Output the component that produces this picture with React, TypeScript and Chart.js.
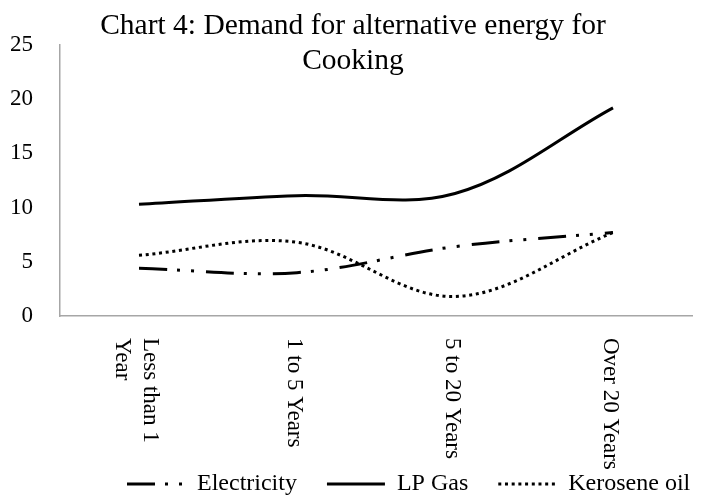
import React, { useEffect, useRef } from "react";
import { Chart, registerables } from "chart.js";

Chart.register(...registerables);

const TITLE_LINES = ["Chart 4: Demand for alternative energy for", "Cooking"];
const CATEGORIES: (string | string[])[] = [["Less than 1", "Year"], "1 to 5 Years", "5 to 20 Years", "Over 20 Years"];
const ELECTRICITY = [4.4, 4.0, 6.4, 7.7];
const LP_GAS = [10.3, 11.1, 11.3, 19.2];
const KEROSENE = [5.6, 6.8, 1.8, 7.7];
const Y_MIN = 0;
const Y_MAX = 25;
const Y_STEP = 5;

const FONT = '"Liberation Serif", "Times New Roman", serif';
const W = 702;
const H = 497;
const LEGEND_PAD = 30;
const LEGEND_H = 25 + LEGEND_PAD;
const PLOT_BOTTOM = 316;

const titlePlugin = {
  id: "excelTitle",
  afterDraw(chart: any) {
    const ctx = chart.ctx;
    ctx.save();
    ctx.fillStyle = "#000";
    ctx.font = `29.5px ${FONT}`;
    ctx.textAlign = "center";
    ctx.textBaseline = "alphabetic";
    TITLE_LINES.forEach((t, i) => ctx.fillText(t, chart.width / 2 + 2, 34 + i * 35));
    ctx.restore();
  },
};

const catLabelPlugin = {
  id: "rotatedCats",
  afterDraw(chart: any) {
    const ctx = chart.ctx;
    const xs = chart.scales.x;
    ctx.save();
    ctx.fillStyle = "#000";
    ctx.font = `23px ${FONT}`;
    ctx.textAlign = "left";
    ctx.textBaseline = "alphabetic";
    CATEGORIES.forEach((lbl, idx) => {
      const lines = Array.isArray(lbl) ? lbl : [lbl];
      const n = lines.length;
      const x = xs.getPixelForValue(idx);
      ctx.save();
      ctx.translate(x, xs.top + 22);
      ctx.rotate(Math.PI / 2);
      lines.forEach((ln, i) => {
        const yp = 9.5 - ((n - 1) / 2 - i) * 28;
        ctx.fillText(ln, 0, yp);
      });
      ctx.restore();
    });
    ctx.restore();
  },
};

const legendShiftPlugin = {
  id: "legendShift",
  afterLayout(chart: any) {
    const lg = chart.legend;
    if (lg) {
      const w = lg.right - lg.left;
      lg.left = 127 - LEGEND_PAD;
      lg.right = lg.left + w;
    }
  },
};

export default function App() {
  const ref = useRef<HTMLCanvasElement>(null);
  useEffect(() => {
    if (!ref.current) return;
    const chart = new Chart(ref.current, {
      type: "line",
      data: {
        labels: CATEGORIES.map((c) => (Array.isArray(c) ? c.join(" ") : c)),
        datasets: [
          {
            label: "Electricity",
            data: ELECTRICITY,
            borderColor: "#000",
            backgroundColor: "#000",
            borderWidth: 3,
            borderDash: [28, 10, 3, 11, 3, 12],
            pointRadius: 0,
            tension: 0.35,
            fill: false,
          },
          {
            label: "LP Gas",
            data: LP_GAS,
            borderColor: "#000",
            backgroundColor: "#000",
            borderWidth: 3,
            pointRadius: 0,
            tension: 0.35,
            fill: false,
          },
          {
            label: "Kerosene oil",
            data: KEROSENE,
            borderColor: "#000",
            backgroundColor: "#000",
            borderWidth: 3,
            borderDash: [3, 3.7],
            pointRadius: 0,
            tension: 0.35,
            fill: false,
          },
        ],
      },
      options: {
        animation: false,
        responsive: false,
        maintainAspectRatio: false,
        layout: { padding: { top: 45, left: 0, right: 10, bottom: 0 } },
        scales: {
          x: {
            type: "category",
            offset: true,
            grid: { display: false, drawTicks: false },
            border: { display: true, color: "#a6a6a6", width: 1.5 },
            ticks: { display: false },
            afterFit: (s: any) => {
              s.height = H - LEGEND_H - PLOT_BOTTOM;
            },
          },
          y: {
            min: Y_MIN,
            max: Y_MAX,
            grid: { display: false, drawTicks: false },
            border: { display: true, color: "#a6a6a6", width: 1.5 },
            ticks: {
              stepSize: Y_STEP,
              padding: 27,
              color: "#000",
              font: { family: FONT, size: 23 },
            },
            afterFit: (s: any) => {
              s.width = 60;
            },
          },
        },
        plugins: {
          title: { display: false },
          tooltip: { enabled: false },
          legend: {
            display: true,
            position: "bottom",
            align: "start",
            maxHeight: LEGEND_H,
            labels: {
              usePointStyle: true,
              pointStyle: "line",
              pointStyleWidth: 58,
              padding: LEGEND_PAD,
              color: "#000",
              font: { family: FONT, size: 24 },
              generateLabels: (ch: any) =>
                ch.data.datasets.map((ds: any, i: number) => ({
                  text: ds.label,
                  datasetIndex: i,
                  fillStyle: ds.borderColor,
                  strokeStyle: ds.borderColor,
                  lineWidth: ds.borderWidth,
                  lineDash: ds.borderDash || [],
                  lineCap: "butt",
                  pointStyle: "line",
                  fontColor: "#000",
                  hidden: false,
                })),
            },
          },
        },
      },
      plugins: [titlePlugin, catLabelPlugin, legendShiftPlugin],
    } as any);
    return () => chart.destroy();
  }, []);
  return (
    <div style={{ position: "fixed", left: 0, top: 0, width: W, height: H, background: "#fff" }}>
      <canvas ref={ref} width={W} height={H} style={{ display: "block", width: W, height: H }} />
    </div>
  );
}
